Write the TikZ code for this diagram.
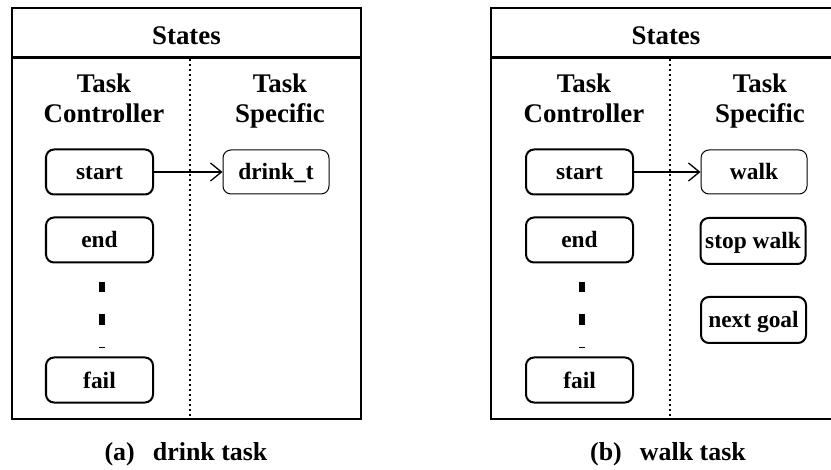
\documentclass[tikz,border=0pt]{standalone}
\usepackage{fontspec}
\setmainfont{Liberation Serif}
\usetikzlibrary{arrows.meta}
\begin{document}
\begin{tikzpicture}[x=1bp, y=-1bp,
  panel/.style={draw, line width=2.6bp},
  divider/.style={line width=2bp, dash pattern=on 2.5bp off 2.5bp},
  title/.style={font=\bfseries\fontsize{27}{31}\selectfont, inner sep=0pt, anchor=base},
  colhead/.style={font=\bfseries\fontsize{27}{31}\selectfont, align=center, inner sep=0pt, anchor=base},
  caption/.style={font=\bfseries\fontsize{26}{31}\selectfont, inner sep=0pt, anchor=base},
  cstate/.style={draw, line width=2bp, rounded corners=8bp, minimum width=107bp,
    minimum height=45bp, inner sep=1bp, text height=16bp, text depth=0bp,
    font=\bfseries\fontsize{23.5}{26}\selectfont},
  tstate/.style={cstate, line width=1bp, minimum width=106bp, minimum height=44bp},
  xstate/.style={cstate, minimum width=105bp, minimum height=46bp},
  link/.style={line width=1.3bp, -{Straight Barb[length=11bp, width=18bp, line width=1.3bp]}},
  ellipsis/.style={line width=6bp, dash pattern=on 10bp off 22bp}
]
\useasboundingbox (0,0) rectangle (831,470);

% ---------- (a) drink task ----------
\draw[panel] (12,8) rectangle (361,419);
\draw[panel] (12,57.5) -- (361,57.5);
\node[title] (sta) at (186.5,45) {States};
\coordinate (da1) at (190,58.8);
\coordinate (da2) at (190,417.7);
\draw[divider] (da1) -- (da2);
\node[colhead] (tca) at (104,123) {Task\\Controller};
\node[colhead] (tsa) at (280,123) {Task\\Specific};

\node[cstate] (starta) at (99.5,172) {start};
\node[cstate] (enda) at (99.5,240) {end};
\node[cstate] (faila) at (99.5,380) {fail};
\node[tstate] (drink) at (276,172) {drink\_t};
\draw[ellipsis] ([xshift=2.5bp,yshift=-19bp]enda.south) -- ([xshift=2.5bp,yshift=9bp]faila.north);
\draw[link] (starta) -- (drink);

\node[caption] (capa) at (186,460) {(a)\hspace{0.7em}drink task};

% ---------- (b) walk task ----------
\draw[panel] (491,8) rectangle (840,419);
\draw[panel] (491,57.5) -- (840,57.5);
\node[title] (stb) at (666,45) {States};
\coordinate (db1) at (670,58.8);
\coordinate (db2) at (670,417.7);
\draw[divider] (db1) -- (db2);
\node[colhead] (tcb) at (584,123) {Task\\Controller};
\node[colhead] (tsb) at (760,123) {Task\\Specific};

\node[cstate] (startb) at (579.5,172) {start};
\node[cstate] (endb) at (579.5,240) {end};
\node[cstate] (failb) at (579.5,380) {fail};
\node[tstate] (walk) at (754,172) {walk};
\node[xstate] (stopwalk) at (753,241) {stop walk};
\node[xstate] (nextgoal) at (753.5,320) {next goal};
\draw[ellipsis] ([xshift=2.5bp,yshift=-19bp]endb.south) -- ([xshift=2.5bp,yshift=9bp]failb.north);
\draw[link] (startb) -- (walk);

\node[caption] (capb) at (668,460) {(b)\hspace{0.7em}walk task};
\end{tikzpicture}
\end{document}
